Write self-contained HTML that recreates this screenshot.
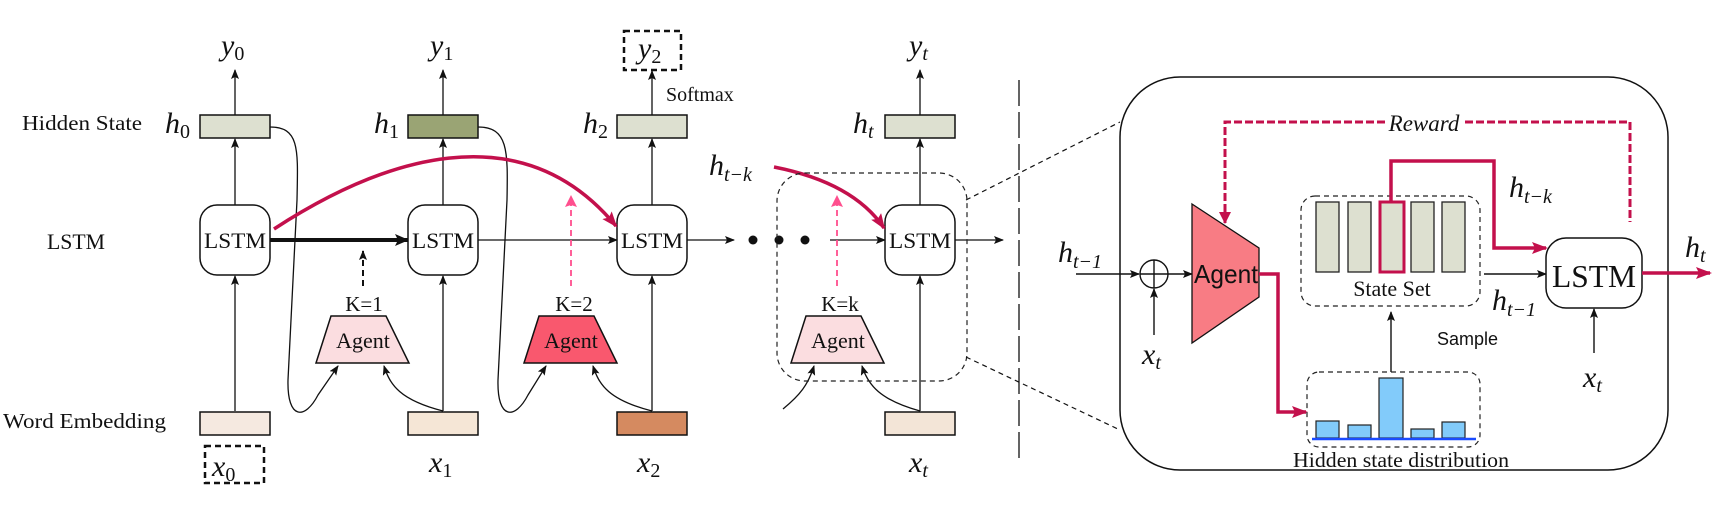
<!DOCTYPE html>
<html><head><meta charset="utf-8"><style>
html,body{margin:0;padding:0;background:#fff;}
svg{display:block;}
text{font-family:"Liberation Serif",serif;fill:#111;}
.m{font-style:italic;}
</style></head><body>
<svg width="1727" height="511" viewBox="0 0 1727 511" xmlns="http://www.w3.org/2000/svg">
<defs>
<marker id="a" markerWidth="10" markerHeight="8" refX="9" refY="4" orient="auto" markerUnits="userSpaceOnUse"><path d="M0,0 L10,4 L0,8 L2,4 z" fill="#111"/></marker>
<marker id="ab" markerWidth="14" markerHeight="12" refX="13" refY="6" orient="auto" markerUnits="userSpaceOnUse"><path d="M0,0 L14,6 L0,12 L3,6 z" fill="#111"/></marker>
<marker id="r" markerWidth="16" markerHeight="12" refX="14" refY="6" orient="auto" markerUnits="userSpaceOnUse"><path d="M0,0 L16,6 L0,12 L3,6 z" fill="#c3104c"/></marker>
<marker id="p" markerWidth="12" markerHeight="12" refX="11" refY="6" orient="auto" markerUnits="userSpaceOnUse"><path d="M0,0 L12,6 L0,12 L2,6 z" fill="#ff4f8e"/></marker>
</defs>
<text x="22" y="130" font-size="21" textLength="120" lengthAdjust="spacingAndGlyphs">Hidden State</text>
<text x="47" y="249" font-size="22" textLength="58" lengthAdjust="spacingAndGlyphs">LSTM</text>
<text x="3" y="428" font-size="21" textLength="163" lengthAdjust="spacingAndGlyphs">Word Embedding</text>

<g stroke="#111" stroke-width="1.3" fill="none">
<line x1="235" y1="411" x2="235" y2="276" marker-end="url(#a)"/>
<line x1="235" y1="205" x2="235" y2="139" marker-end="url(#a)"/>
<line x1="235" y1="115" x2="235" y2="70" marker-end="url(#a)"/>
<line x1="443" y1="411" x2="443" y2="276" marker-end="url(#a)"/>
<line x1="443" y1="205" x2="443" y2="139" marker-end="url(#a)"/>
<line x1="443" y1="115" x2="443" y2="70" marker-end="url(#a)"/>
<line x1="652" y1="411" x2="652" y2="276" marker-end="url(#a)"/>
<line x1="652" y1="205" x2="652" y2="139" marker-end="url(#a)"/>
<line x1="652" y1="115" x2="652" y2="71" marker-end="url(#a)"/>
<line x1="920" y1="411" x2="920" y2="276" marker-end="url(#a)"/>
<line x1="920" y1="205" x2="920" y2="139" marker-end="url(#a)"/>
<line x1="920" y1="115" x2="920" y2="70" marker-end="url(#a)"/>
<line x1="270" y1="240" x2="408" y2="240" stroke-width="4" marker-end="url(#ab)"/>
<line x1="478" y1="240" x2="617" y2="240" marker-end="url(#a)"/>
<line x1="687" y1="240" x2="734" y2="240" marker-end="url(#a)"/>
<line x1="830" y1="240" x2="885" y2="240" marker-end="url(#a)"/>
<line x1="955" y1="240" x2="1003" y2="240" marker-end="url(#a)"/>
<path d="M270,127 C300,127 298,150 297,200 L288,380 C287,420 305,420 318,395 L338,366" marker-end="url(#a)"/>
<path d="M443,411 C400,400 390,385 384,366" marker-end="url(#a)"/>
<path d="M478,127 C508,127 508,150 507,200 L498,380 C497,420 515,420 528,395 L546,366" marker-end="url(#a)"/>
<path d="M652,411 C609,400 599,385 593,366" marker-end="url(#a)"/>
<path d="M783,409 C800,395 808,385 814,366" marker-end="url(#a)"/>
<path d="M920,411 C880,400 868,385 862,366" marker-end="url(#a)"/>
<line x1="363" y1="286" x2="363" y2="251" stroke-dasharray="6,4" stroke-width="2" marker-end="url(#a)"/>
</g>
<g stroke="#ff4f8e" stroke-width="1.8" fill="none" stroke-dasharray="6,4">
<line x1="571" y1="286" x2="571" y2="196" marker-end="url(#p)"/>
<line x1="837" y1="286" x2="837" y2="196" marker-end="url(#p)"/>
</g>
<circle cx="753" cy="240" r="4.5" fill="#111"/>
<circle cx="779" cy="240" r="4.5" fill="#111"/>
<circle cx="805" cy="240" r="4.5" fill="#111"/>

<g stroke="#111" stroke-width="1.5">
<rect x="200" y="115" width="70" height="23" fill="#dde0d0"/>
<rect x="408" y="115" width="70" height="23" fill="#9aa474"/>
<rect x="617" y="115" width="70" height="23" fill="#dde0d0"/>
<rect x="885" y="115" width="70" height="23" fill="#dde0d0"/>
<rect x="200" y="412" width="70" height="23" fill="#f5e9e0"/>
<rect x="408" y="412" width="70" height="23" fill="#f5e6d6"/>
<rect x="617" y="412" width="70" height="23" fill="#d58a60"/>
<rect x="885" y="412" width="70" height="23" fill="#f3e5d7"/>
<rect x="200" y="205" width="70" height="70" rx="17" fill="#fff"/>
<rect x="408" y="205" width="70" height="70" rx="17" fill="#fff"/>
<rect x="617" y="205" width="70" height="70" rx="17" fill="#fff"/>
<rect x="885" y="205" width="70" height="70" rx="17" fill="#fff"/>
<polygon points="331,316 386,316 409,363 316,363" fill="#fbdde0"/>
<polygon points="539,316 594,316 617,363 524,363" fill="#f9586e"/>
<polygon points="806,316 861,316 884,363 791,363" fill="#fbdde0"/>
</g>
<g font-size="22" text-anchor="middle">
<text x="235" y="248" textLength="62" lengthAdjust="spacingAndGlyphs">LSTM</text><text x="443" y="248" textLength="62" lengthAdjust="spacingAndGlyphs">LSTM</text><text x="652" y="248" textLength="62" lengthAdjust="spacingAndGlyphs">LSTM</text><text x="920" y="248" textLength="62" lengthAdjust="spacingAndGlyphs">LSTM</text>
</g>
<g font-size="22" text-anchor="middle">
<text x="363" y="348">Agent</text><text x="571" y="348">Agent</text><text x="838" y="348">Agent</text>
</g>
<g font-size="21" text-anchor="middle">
<text x="364" y="311">K=1</text><text x="574" y="311">K=2</text><text x="840" y="311">K=k</text>
</g>
<text x="666" y="101" font-size="20">Softmax</text>
<g font-size="30">
<text x="221" y="55" class="m">y<tspan font-size="20" font-style="normal" dy="5">0</tspan></text>
<text x="430" y="55" class="m">y<tspan font-size="20" font-style="normal" dy="5">1</tspan></text>
<text x="638" y="58" class="m">y<tspan font-size="20" font-style="normal" dy="5">2</tspan></text>
<text x="909" y="55" class="m">y<tspan font-size="20" dy="5">t</tspan></text>
<text x="165" y="133" class="m">h<tspan font-size="20" font-style="normal" dy="5">0</tspan></text>
<text x="374" y="133" class="m">h<tspan font-size="20" font-style="normal" dy="5">1</tspan></text>
<text x="583" y="133" class="m">h<tspan font-size="20" font-style="normal" dy="5">2</tspan></text>
<text x="853" y="133" class="m">h<tspan font-size="20" dy="5">t</tspan></text>
<text x="709" y="175" class="m">h<tspan font-size="20" dy="6">t−k</tspan></text>
<text x="212" y="476" class="m">x<tspan font-size="20" font-style="normal" dy="5">0</tspan></text>
<text x="429" y="472" class="m">x<tspan font-size="20" font-style="normal" dy="5">1</tspan></text>
<text x="637" y="472" class="m">x<tspan font-size="20" font-style="normal" dy="5">2</tspan></text>
<text x="909" y="472" class="m">x<tspan font-size="20" dy="5">t</tspan></text>
</g>
<g fill="none" stroke="#111" stroke-width="2.5" stroke-dasharray="6,4">
<rect x="205" y="446" width="59" height="37"/>
<rect x="624" y="31" width="57" height="39"/>
</g>
<path d="M274,229 C380,160 520,110 616,226" fill="none" stroke="#c3104c" stroke-width="3.5" marker-end="url(#r)"/>
<path d="M774,167 C830,178 865,200 884,228" fill="none" stroke="#c3104c" stroke-width="3.5" marker-end="url(#r)"/>
<rect x="777" y="173" width="190" height="208" rx="28" fill="none" stroke="#222" stroke-width="1.2" stroke-dasharray="5,4"/>
<line x1="1019" y1="80" x2="1019" y2="462" stroke="#111" stroke-width="1.3" stroke-dasharray="26,6"/>
<line x1="966" y1="200" x2="1120" y2="122" stroke="#111" stroke-width="1.2" stroke-dasharray="5,4"/>
<line x1="966" y1="357" x2="1120" y2="430" stroke="#111" stroke-width="1.2" stroke-dasharray="5,4"/>
<rect x="1120" y="77" width="548" height="393" rx="60" fill="none" stroke="#111" stroke-width="1.5"/>

<path d="M1225,223 L1225,122 L1630,122 L1630,222" fill="none" stroke="#c3104c" stroke-width="3" stroke-dasharray="8,3"/>
<path d="M1219,212 L1225,224 L1231,212 z" fill="#c3104c"/>
<rect x="1386" y="110" width="76" height="24" fill="#fff"/>
<text x="1424" y="131" font-size="23" class="m" text-anchor="middle">Reward</text>

<g stroke="#111" stroke-width="1.4" fill="none">
<line x1="1076" y1="274" x2="1139" y2="274" marker-end="url(#a)"/>
<circle cx="1154" cy="274" r="14"/>
<line x1="1140" y1="274" x2="1168" y2="274"/><line x1="1154" y1="260" x2="1154" y2="288"/>
<line x1="1168" y1="274" x2="1192" y2="274" marker-end="url(#a)"/>
<line x1="1154" y1="335" x2="1154" y2="289" marker-end="url(#a)"/>
<line x1="1484" y1="274" x2="1546" y2="274" marker-end="url(#a)"/>
<line x1="1594" y1="353" x2="1594" y2="309" marker-end="url(#a)"/>
<line x1="1391" y1="372" x2="1391" y2="312" marker-end="url(#a)"/>
</g>
<polygon points="1192,204 1259,248 1259,297 1192,343" fill="#f87c84" stroke="#111" stroke-width="1.3"/>
<text x="1226" y="283" font-size="26" style="font-family:'Liberation Sans',sans-serif" text-anchor="middle" textLength="64" lengthAdjust="spacingAndGlyphs">Agent</text>

<rect x="1301" y="196" width="179" height="110" rx="14" fill="none" stroke="#222" stroke-width="1.2" stroke-dasharray="5,4"/>
<g stroke="#222" stroke-width="1.3" fill="#dde0d0">
<rect x="1316" y="202" width="23" height="70"/><rect x="1348" y="202" width="23" height="70"/>
<rect x="1411" y="202" width="23" height="70"/><rect x="1442" y="202" width="23" height="70"/>
</g>
<rect x="1380" y="202" width="24" height="70" fill="#dde0d0" stroke="#c3104c" stroke-width="3"/>
<text x="1392" y="296" font-size="22" text-anchor="middle">State Set</text>
<path d="M1391,202 L1391,161 L1494,161 L1494,248 L1546,248" fill="none" stroke="#c3104c" stroke-width="3.5" marker-end="url(#r)"/>
<rect x="1546" y="238" width="96" height="70" rx="20" fill="#fff" stroke="#111" stroke-width="1.5"/>
<text x="1594" y="287" font-size="32" text-anchor="middle" textLength="84" lengthAdjust="spacingAndGlyphs">LSTM</text>
<line x1="1642" y1="273" x2="1710" y2="273" stroke="#c3104c" stroke-width="3.5" marker-end="url(#r)"/>
<path d="M1259,274 L1278,274 L1278,412 L1306,412" fill="none" stroke="#c3104c" stroke-width="3.5" marker-end="url(#r)"/>

<rect x="1307" y="372" width="173" height="75" rx="12" fill="none" stroke="#222" stroke-width="1.2" stroke-dasharray="5,4"/>
<g stroke="#222" stroke-width="1.2" fill="#82cbfa">
<rect x="1316" y="421" width="23" height="17"/><rect x="1348" y="425" width="23" height="13"/>
<rect x="1379" y="378" width="24" height="60"/><rect x="1411" y="429" width="23" height="9"/>
<rect x="1442" y="422" width="23" height="16"/>
</g>
<line x1="1312" y1="439" x2="1476" y2="439" stroke="#1a4bff" stroke-width="2.5"/>
<text x="1401" y="467" font-size="21" text-anchor="middle" textLength="216" lengthAdjust="spacingAndGlyphs">Hidden state distribution</text>
<text x="1437" y="345" font-size="18" style="font-family:'Liberation Sans',sans-serif">Sample</text>

<g font-size="30">
<text x="1058" y="262" class="m">h<tspan font-size="20" dy="6">t−1</tspan></text>
<text x="1142" y="364" class="m">x<tspan font-size="20" dy="5">t</tspan></text>
<text x="1509" y="197" class="m">h<tspan font-size="20" dy="6">t−k</tspan></text>
<text x="1492" y="310" class="m">h<tspan font-size="20" dy="6">t−1</tspan></text>
<text x="1685" y="257" class="m">h<tspan font-size="20" dy="5">t</tspan></text>
<text x="1583" y="387" class="m">x<tspan font-size="20" dy="5">t</tspan></text>
</g>
</svg>
</body></html>
